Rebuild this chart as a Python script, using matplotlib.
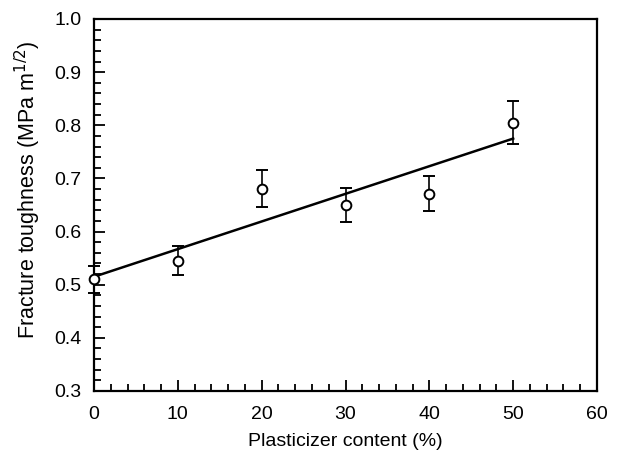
import matplotlib
matplotlib.use("Agg")
import matplotlib.pyplot as plt
from matplotlib.ticker import MultipleLocator, FormatStrFormatter

plt.rcParams['font.family'] = ['Liberation Sans', 'DejaVu Sans']

# Measured fracture toughness vs plasticizer content
content = [0, 10, 20, 30, 40, 50]
toughness = [0.51, 0.545, 0.68, 0.65, 0.67, 0.805]
err_low = [0.025, 0.027, 0.033, 0.032, 0.032, 0.040]
err_high = [0.025, 0.027, 0.035, 0.032, 0.035, 0.040]

# Linear fit through the data
fit_x = [0, 50]
fit_y = [0.515, 0.775]

fig = plt.figure(figsize=(6.19, 4.57), dpi=100)
ax = fig.add_axes([94 / 619, 1 - 391 / 457, 503 / 619, 372 / 457])

ax.plot(fit_x, fit_y, color='black', lw=1.8, zorder=2)
ax.errorbar(content, toughness, yerr=[err_low, err_high], fmt='o',
            mfc='white', mec='black', mew=1.4, ms=7, ecolor='black',
            elinewidth=1.2, capsize=4, capthick=1.2, zorder=3, clip_on=False)

ax.set_xlim(0, 60)
ax.set_ylim(0.3, 1.0)
ax.xaxis.set_major_locator(MultipleLocator(10))
ax.xaxis.set_minor_locator(MultipleLocator(2))
ax.yaxis.set_major_locator(MultipleLocator(0.1))
ax.yaxis.set_minor_locator(MultipleLocator(0.02))
ax.yaxis.set_major_formatter(FormatStrFormatter('%.1f'))
ax.tick_params(which='both', direction='in', labelsize=14, width=1.3)
ax.tick_params(which='major', length=8)
ax.tick_params(which='minor', length=5)
ax.tick_params(axis='x', which='major', pad=11)
ax.tick_params(axis='y', which='major', pad=9)
ax.tick_params(top=False, right=False)
for s in ax.spines.values():
    s.set_linewidth(1.6)

ax.set_xlabel('Plasticizer content (%)', fontsize=14, labelpad=7)
ax.set_ylabel('Fracture toughness (MPa m$^{1/2}$)', fontsize=15.5, labelpad=8)
ax.yaxis.label.set_y(0.54)

fig.savefig('out.png', dpi=100)
